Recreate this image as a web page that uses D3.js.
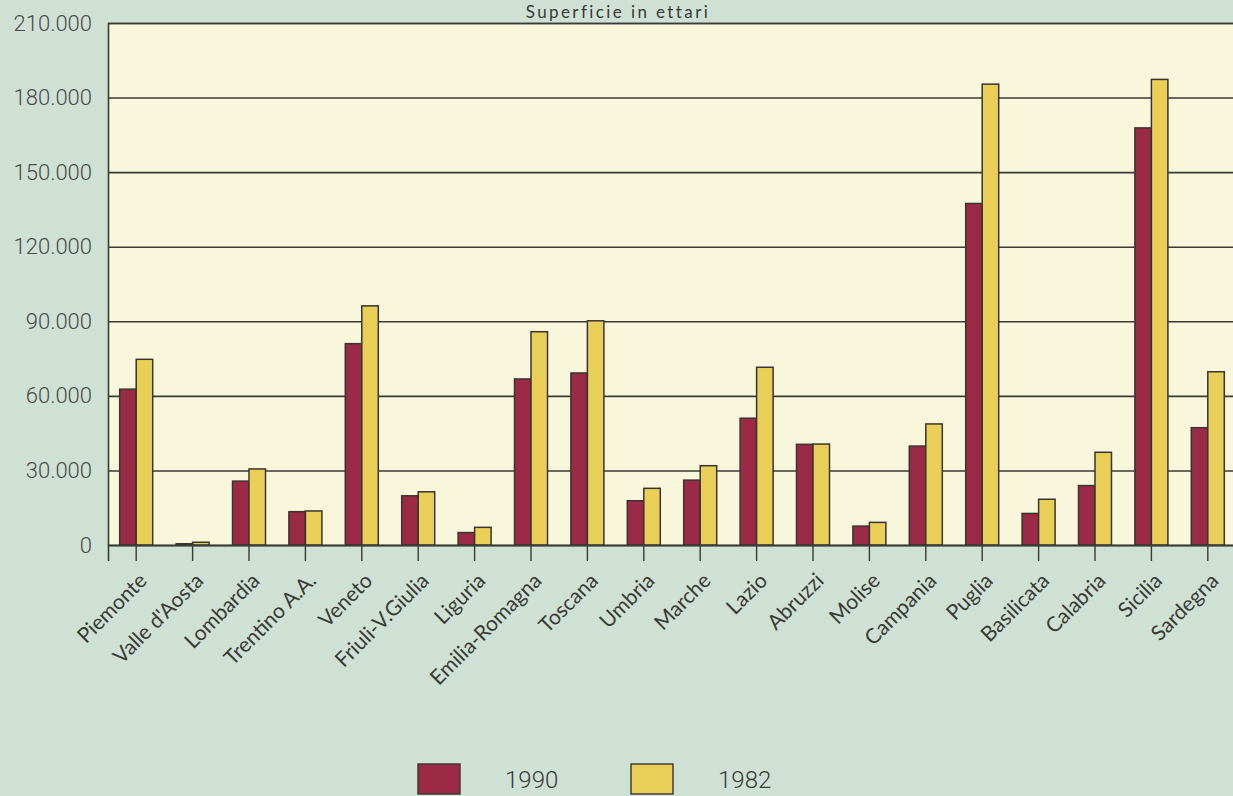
<!DOCTYPE html>
<html>
<head>
<meta charset="utf-8">
<script src="https://cdn.jsdelivr.net/npm/d3@7"></script>
<style>
  html, body { margin: 0; padding: 0; background: #cfe0d5; overflow: hidden; }
  svg { display: block; }
</style>
</head>
<body>
<svg id="chart" width="1233" height="796"></svg>
<script>
// ---- data ----
const categories = ["Piemonte", "Valle d'Aosta", "Lombardia", "Trentino A.A.", "Veneto", "Friuli-V.Giulia", "Liguria", "Emilia-Romagna", "Toscana", "Umbria", "Marche", "Lazio", "Abruzzi", "Molise", "Campania", "Puglia", "Basilicata", "Calabria", "Sicilia", "Sardegna"];
const values1990 = [62700, 500, 25700, 13400, 81000, 19800, 5000, 66800, 69200, 17800, 26100, 51000, 40500, 7600, 39800, 137400, 12700, 23900, 167800, 47200];
const values1982 = [74700, 1100, 30600, 13700, 96200, 21400, 7100, 85800, 90200, 22800, 31900, 71500, 40600, 9100, 48700, 185400, 18400, 37300, 187300, 69700];
const seriesNames = ["1990", "1982"];
const seriesColors = ["#9b2a46", "#e9cf58"];
const yTickValues = [0, 30000, 60000, 90000, 120000, 150000, 180000, 210000];
const titleText = "Superficie in ettari";

// ---- layout ----
const svg = d3.select("#chart");
const W = 1233, H = 796;
const plotLeft = 108, plotTop = 23, plotBottom = 545;
const step = 56.4;
const plotRight = plotLeft + step * categories.length;

svg.append("rect").attr("x", 0).attr("y", 0).attr("width", W).attr("height", H).attr("fill", "#cfe0d5");

const x = d3.scaleBand().domain(categories).range([plotLeft, plotRight]).padding(0);
const xs = d3.scaleBand().domain(seriesNames).range([-16.5, 16.5]).padding(0);
const y = d3.scaleLinear().domain([0, 210000]).range([plotBottom, plotTop]);

const it = d3.formatLocale({decimal: ",", thousands: ".", grouping: [3], currency: ["", "€"]});
const fmt = it.format(",d");

// plot background
svg.append("rect")
  .attr("x", plotLeft).attr("y", plotTop)
  .attr("width", plotRight - plotLeft).attr("height", plotBottom - plotTop)
  .attr("fill", "#f8f7dc");

// gridlines via axis
const yAxis = d3.axisLeft(y).tickValues(yTickValues).tickFormat(fmt)
  .tickSize(-(plotRight - plotLeft)).tickPadding(16);
const gy = svg.append("g").attr("transform", `translate(${plotLeft},0)`).call(yAxis);
gy.select(".domain").attr("stroke", "#3a3a36").attr("stroke-width", 1.6);
gy.selectAll(".tick line").attr("stroke", "#3a3a36").attr("stroke-width", 1.6);
gy.selectAll(".tick text")
  .attr("font-family", "Roboto, 'Liberation Sans', sans-serif")
  .attr("font-weight", 300)
  .attr("font-size", 22)
  .attr("fill", "#4a4a48");

// bars
const data = categories.map((c, i) => ({cat: c, vals: [values1990[i], values1982[i]]}));
const groups = svg.append("g").selectAll("g").data(data).join("g")
  .attr("transform", d => `translate(${x(d.cat) + x.bandwidth() / 2},0)`);
groups.selectAll("rect")
  .data(d => d.vals.map((v, j) => ({key: seriesNames[j], v, j})))
  .join("rect")
  .attr("x", d => xs(d.key))
  .attr("width", xs.bandwidth())
  .attr("y", d => y(d.v))
  .attr("height", d => y(0) - y(d.v))
  .attr("fill", d => seriesColors[d.j])
  .attr("stroke", "#3a3430")
  .attr("stroke-width", 1.5);

// x axis with ticks at group centres
const xAxis = d3.axisBottom(x).tickSize(16).tickFormat("");
const gx = svg.append("g").attr("transform", `translate(0,${plotBottom})`).call(xAxis);
gx.select(".domain").attr("stroke", "#3a3a36").attr("stroke-width", 1.6);
gx.selectAll(".tick line").attr("stroke", "#3a3a36").attr("stroke-width", 1.4);

// category labels rotated
svg.append("g").selectAll("text").data(categories).join("text")
  .attr("transform", d => `translate(${x(d) + x.bandwidth() / 2 + 12},${plotBottom + 37}) rotate(-45)`)
  .attr("text-anchor", "end")
  .attr("font-family", "Lato, 'Open Sans', sans-serif")
  .attr("font-size", 21)
  .attr("fill", "#3a3a36")
  .text(d => d);

// title
svg.append("text")
  .attr("x", 618).attr("y", 18)
  .attr("text-anchor", "middle")
  .attr("font-family", "Lato, 'Open Sans', sans-serif")
  .attr("font-size", 17)
  .attr("letter-spacing", 2.4)
  .attr("fill", "#3a3a36")
  .text(titleText);

// legend
const legendX = [418, 631];
const legend = svg.append("g").selectAll("g").data(seriesNames).join("g")
  .attr("transform", (d, i) => `translate(${legendX[i]},764)`);
legend.append("rect")
  .attr("width", 42).attr("height", 30)
  .attr("fill", (d, i) => seriesColors[i])
  .attr("stroke", "#3a3430").attr("stroke-width", 1.4);
legend.append("text")
  .attr("x", 87).attr("y", 24)
  .attr("font-family", "Roboto, 'Liberation Sans', sans-serif")
  .attr("font-weight", 300)
  .attr("font-size", 24)
  .attr("fill", "#3a3a36")
  .text(d => d);
</script>
</body>
</html>
